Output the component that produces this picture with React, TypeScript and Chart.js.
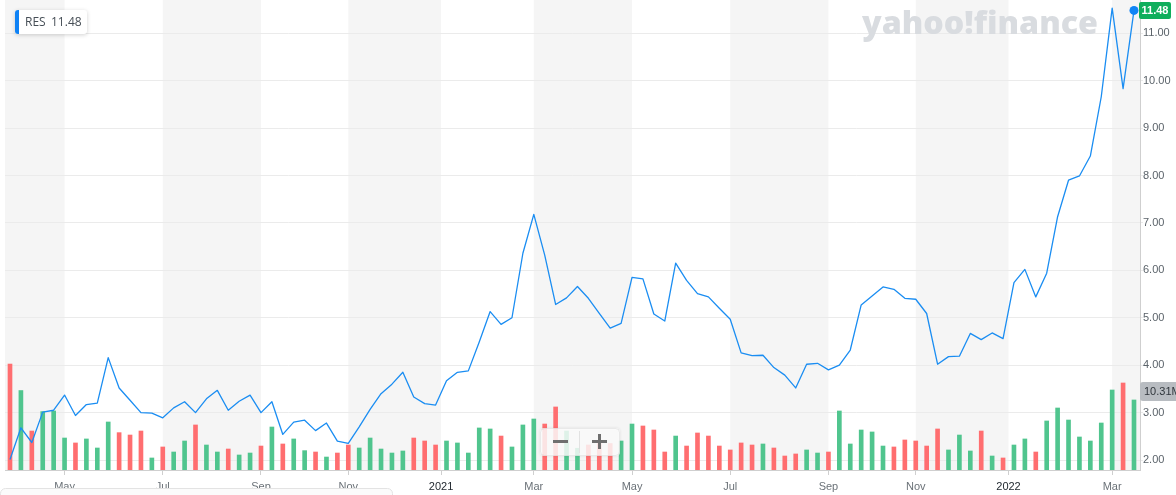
import React, { useEffect, useRef } from 'react';
import { Chart, registerables } from 'chart.js';

Chart.register(...registerables);

const ticker = 'RES';

// weekly closing prices (USD)
const closes = [
  2.01, 2.68, 2.37, 3.01, 3.05, 3.37, 2.94, 3.17, 3.20, 4.16,
  3.52, 3.26, 3.00, 2.99, 2.89, 3.10, 3.23, 3.00, 3.29, 3.47,
  3.05, 3.24, 3.37, 3.00, 3.23, 2.54, 2.80, 2.84, 2.62, 2.78,
  2.40, 2.35, 2.70, 3.07, 3.40, 3.60, 3.85, 3.33, 3.19, 3.16,
  3.67, 3.85, 3.88, 4.49, 5.13, 4.86, 5.00, 6.36, 7.18, 6.32,
  5.28, 5.42, 5.66, 5.41, 5.09, 4.78, 4.88, 5.85, 5.82, 5.08,
  4.93, 6.15, 5.79, 5.51, 5.44, 5.20, 4.97, 4.26, 4.20, 4.21,
  3.95, 3.79, 3.52, 4.02, 4.04, 3.90, 4.00, 4.32, 5.27, 5.46,
  5.65, 5.60, 5.41, 5.39, 5.09, 4.02, 4.18, 4.19, 4.67, 4.54,
  4.68, 4.56, 5.74, 6.02, 5.44, 5.94, 7.13, 7.90, 7.99, 8.41,
  9.66, 11.53, 9.83, 11.48,
];

// weekly volume (millions of shares)
const volumes = [
  15.6, 11.7, 5.74, 8.6, 8.69, 4.71, 3.98, 4.57, 3.24, 7.07,
  5.5, 5.15, 5.74, 1.77, 3.39, 2.65, 4.27, 6.63, 3.68, 2.65,
  3.09, 2.21, 2.5, 3.53, 6.33, 3.83, 4.57, 2.85, 2.65, 1.91,
  2.5, 3.68, 3.24, 4.71, 3.09, 2.5, 2.8, 4.71, 4.27, 3.68,
  4.27, 3.98, 2.5, 6.19, 6.04, 5.0, 3.39, 6.63, 7.51, 6.77,
  9.28, 5.74, 3.2, 3.68, 3.9, 3.9, 4.27, 6.77, 6.48, 5.89,
  2.65, 5.0, 3.53, 5.45, 5.0, 3.53, 2.95, 3.98, 3.68, 3.83,
  3.24, 2.06, 2.36, 2.95, 2.5, 2.65, 8.69, 3.83, 5.89, 5.6,
  3.53, 3.39, 4.42, 4.27, 3.53, 6.04, 2.95, 5.15, 2.8, 5.74,
  2.06, 1.77, 3.68, 4.57, 2.65, 7.22, 9.13, 7.36, 4.86, 4.27,
  6.92, 11.78, 12.81, 10.31,
];

// 1 = up week (green volume bar), 0 = down week (red)
const upWeeks = [
  0, 1, 0, 1, 1, 1, 0, 1, 1, 1,
  0, 0, 0, 1, 0, 1, 1, 0, 1, 1,
  0, 1, 1, 0, 1, 0, 1, 1, 0, 1,
  0, 0, 1, 1, 1, 1, 1, 0, 0, 0,
  1, 1, 1, 1, 1, 0, 1, 1, 1, 0,
  0, 1, 1, 0, 0, 0, 1, 1, 0, 0,
  0, 1, 0, 0, 0, 0, 0, 0, 0, 1,
  0, 0, 0, 1, 1, 0, 1, 1, 1, 1,
  1, 0, 0, 0, 0, 0, 1, 1, 1, 0,
  1, 0, 1, 1, 0, 1, 1, 1, 1, 1,
  1, 1, 0, 1,
];

// x-axis ticks (week index) and labels
const tickPositions = [5, 14, 23, 31, 39.5, 48, 57, 66, 75, 83, 91.5, 101];
const tickLabels = ['May', 'Jul', 'Sep', 'Nov', '2021', 'Mar', 'May', 'Jul', 'Sep', 'Nov', '2022', 'Mar'];

// right price axis ticks
const priceTicks = [2, 3, 4, 5, 6, 7, 8, 9, 10, 11];

const FONT = "'Liberation Sans', Arial, Helvetica, sans-serif";
const LEGEND_FONT = "'Open Sans', 'Liberation Sans', Arial, sans-serif";
const GREEN = '#50c58e';
const RED = '#ff6e70';
const LINE = '#1a8df2';

const bandsPlugin = {
  id: 'bands',
  beforeDraw(chart: any) {
    const { ctx, chartArea: a, scales } = chart;
    const x = scales.x;
    const edges = [x.min, ...tickPositions, x.max];
    ctx.save();
    ctx.fillStyle = '#f5f5f5';
    for (let i = 0; i < edges.length - 1; i += 2) {
      const x0 = x.getPixelForValue(edges[i]);
      const x1 = x.getPixelForValue(edges[i + 1]);
      ctx.fillRect(x0, a.top, x1 - x0, a.bottom - a.top);
    }
    ctx.restore();
  },
  beforeDatasetsDraw(chart: any) {
    const { ctx } = chart;
    ctx.save();
    ctx.fillStyle = '#d9dce0';
    ctx.font = `800 31px ${LEGEND_FONT}`;
    const text = 'yahoo!finance';
    const w = ctx.measureText(text).width;
    const target = 236;
    ctx.translate(862, 34);
    ctx.scale(target / w, 1);
    ctx.textBaseline = 'alphabetic';
    ctx.fillText(text, 0, 0);
    ctx.restore();
  },
  afterDraw(chart: any) {
    const { ctx, chartArea: a, scales } = chart;
    const last = closes.length - 1;
    ctx.save();

    // legend box
    ctx.save();
    ctx.shadowColor = 'rgba(0,0,0,0.18)';
    ctx.shadowBlur = 4;
    ctx.shadowOffsetY = 1;
    ctx.fillStyle = '#ffffff';
    ctx.beginPath();
    ctx.roundRect(15, 10, 72, 24, 3);
    ctx.fill();
    ctx.restore();
    ctx.fillStyle = '#0f82f5';
    ctx.beginPath();
    ctx.roundRect(15, 10, 4, 24, [3, 0, 0, 3]);
    ctx.fill();
    ctx.fillStyle = '#464e56';
    ctx.font = `12px ${LEGEND_FONT}`;
    ctx.textBaseline = 'middle';
    ctx.textAlign = 'left';
    ctx.fillText(ticker, 25, 22.5);
    ctx.fillText(closes[last].toFixed(2), 51, 22.5);

    // last price badge
    const py = scales.y.getPixelForValue(closes[last]);
    ctx.fillStyle = '#0fae5c';
    ctx.beginPath();
    ctx.roundRect(a.right - 1, py - 8.5, 32, 17, 2);
    ctx.fill();
    ctx.fillStyle = '#ffffff';
    ctx.font = `bold 11px ${FONT}`;
    ctx.textAlign = 'center';
    ctx.fillText(closes[last].toFixed(2), a.right + 15, py + 0.5);

    // last volume badge
    const vy = scales.vol.getPixelForValue(volumes[last]);
    ctx.fillStyle = '#b8bcc1';
    ctx.beginPath();
    ctx.roundRect(a.right, vy - 18, 50, 19, [3, 0, 0, 3]);
    ctx.fill();
    ctx.fillStyle = '#30363c';
    ctx.font = `11px ${FONT}`;
    ctx.textAlign = 'left';
    ctx.fillText(volumes[last].toFixed(2) + 'M', a.right + 4, vy - 8);

    // zoom control
    ctx.save();
    ctx.shadowColor = 'rgba(0,0,0,0.12)';
    ctx.shadowBlur = 3;
    ctx.fillStyle = 'rgba(255,255,255,0.82)';
    ctx.beginPath();
    ctx.roundRect(540, 428, 80, 28, 4);
    ctx.fill();
    ctx.restore();
    ctx.strokeStyle = 'rgba(0,0,0,0.07)';
    ctx.lineWidth = 1;
    ctx.beginPath();
    ctx.roundRect(540.5, 428.5, 79, 27, 4);
    ctx.stroke();
    ctx.strokeStyle = '#e2e2e2';
    ctx.beginPath();
    ctx.moveTo(579.5, 431);
    ctx.lineTo(579.5, 453);
    ctx.stroke();
    ctx.fillStyle = '#6f6f6f';
    ctx.fillRect(553, 440, 15, 3);
    ctx.fillRect(592, 440, 15, 3);
    ctx.fillRect(598, 434, 3, 15);

    // navigator outline at the bottom
    ctx.fillStyle = '#fbfbfb';
    ctx.strokeStyle = '#e3e3e3';
    ctx.beginPath();
    ctx.roundRect(0.5, 488.5, 392, 20, 5);
    ctx.fill();
    ctx.stroke();

    ctx.restore();
  },
};

export default function App() {
  const ref = useRef<HTMLCanvasElement | null>(null);

  useEffect(() => {
    const canvas = ref.current;
    if (!canvas) return;
    const last = closes.length - 1;
    const chart = new Chart(canvas, {
      type: 'bar',
      data: {
        datasets: [
          {
            type: 'line',
            data: closes.map((c, i) => ({ x: i, y: c })),
            yAxisID: 'y',
            borderColor: LINE,
            borderWidth: 1.3,
            borderJoinStyle: 'round',
            tension: 0,
            pointRadius: (c: any) => (c.dataIndex === last ? 4.5 : 0),
            pointBackgroundColor: '#0f84f6',
            pointBorderWidth: 0,
            clip: 6,
            order: 0,
          } as any,
          {
            type: 'bar',
            data: volumes.map((v, i) => ({ x: i, y: v })),
            yAxisID: 'vol',
            backgroundColor: upWeeks.map((u) => (u ? GREEN : RED)),
            barThickness: 4,
            order: 1,
          } as any,
        ],
      },
      options: {
        animation: false,
        responsive: false,
        events: [],
        layout: { autoPadding: false, padding: { left: 5, top: 0, right: 0, bottom: 0 } },
        plugins: { legend: { display: false }, tooltip: { enabled: false } },
        scales: {
          x: {
            type: 'linear',
            min: -0.458,
            max: 103.55,
            offset: false,
            afterBuildTicks: (s: any) => {
              s.ticks = tickPositions.map((v) => ({ value: v }));
            },
            afterFit: (s: any) => {
              s.height = 25;
              s.paddingLeft = 0;
              s.paddingRight = 0;
            },
            grid: { drawOnChartArea: false, drawTicks: true, tickLength: 5, color: '#cfcfcf', offset: false },
            border: { color: '#cfcfcf' },
            ticks: {
              autoSkip: false,
              maxRotation: 0,
              padding: 5,
              font: { family: FONT, size: 11 },
              color: (c: any) => (/^\d{4}$/.test(tickLabels[c.index] || '') ? '#232a31' : '#6b7278'),
              callback: (_v: any, i: number) => tickLabels[i],
            },
          },
          y: {
            type: 'linear',
            position: 'right',
            min: 1.79,
            max: 11.7,
            afterBuildTicks: (s: any) => {
              s.ticks = priceTicks.map((v) => ({ value: v }));
            },
            afterFit: (s: any) => {
              s.width = 36;
              s.paddingTop = 0;
              s.paddingBottom = 0;
            },
            grid: { color: '#ebebeb', tickLength: 3 },
            border: { color: '#cfcfcf' },
            ticks: {
              padding: 0,
              font: { family: FONT, size: 11 },
              color: '#5b636a',
              callback: (v: any) => Number(v).toFixed(2),
            },
          },
          vol: {
            type: 'linear',
            display: false,
            min: 0,
            max: 69.2,
          },
        },
      } as any,
      plugins: [bandsPlugin],
    });
    return () => chart.destroy();
  }, []);

  return (
    <div style={{ position: 'fixed', left: 0, top: 0, width: 1176, height: 495, background: '#fff' }}>
      <canvas ref={ref} width={1176} height={495} style={{ display: 'block' }} />
    </div>
  );
}
